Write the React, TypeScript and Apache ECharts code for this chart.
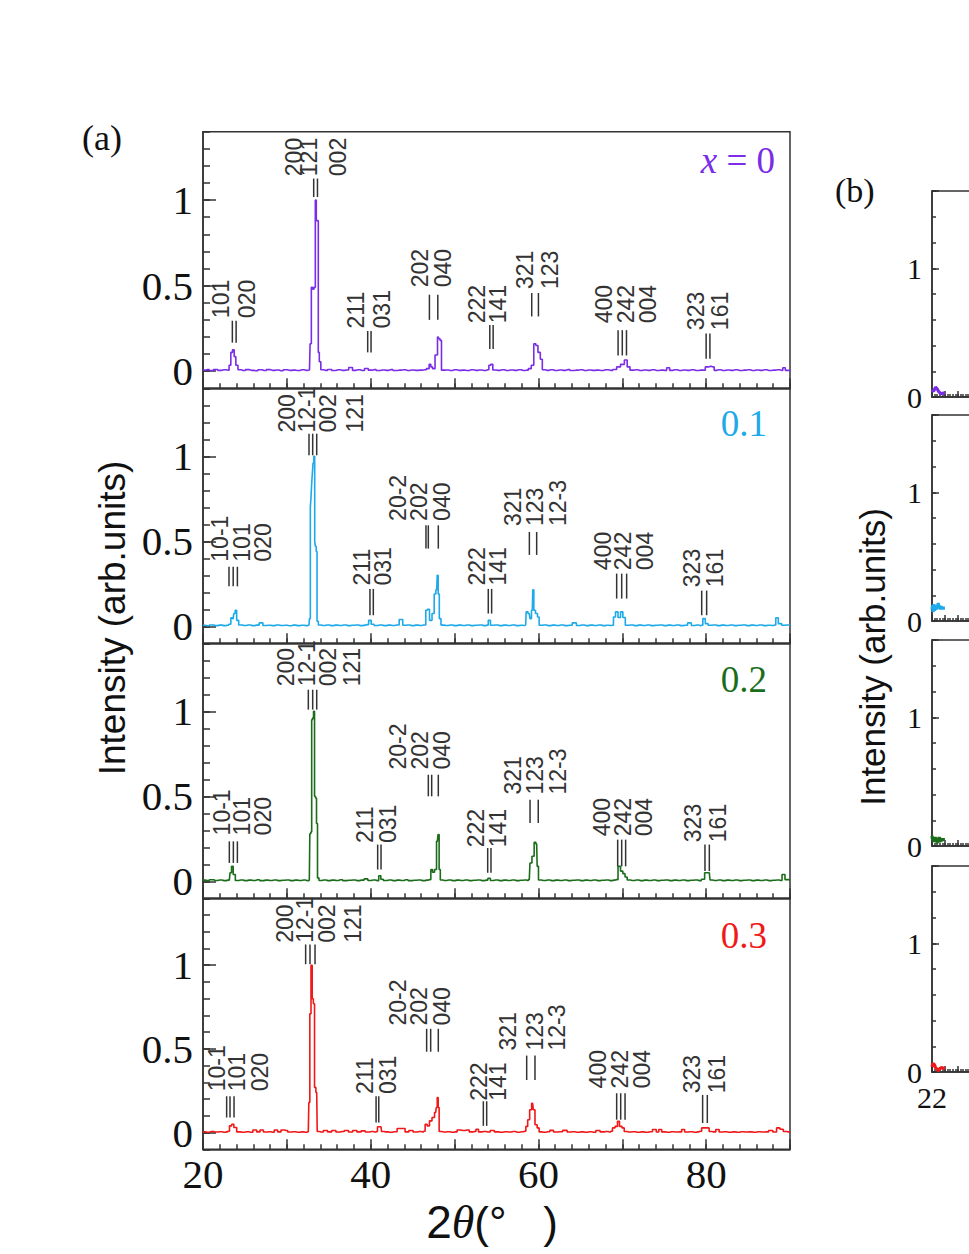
import React, { useEffect, useRef } from 'react';
import * as echarts from 'echarts';

type P = [number, number];
type Bar = [number, number, number];
type Lab = [string, number, number];

// ---------- panel (a) XRD patterns (2theta, normalised intensity) ----------
const xrd0: P[] = [
  [20,0.006],[20.5,0.009],[21,0.004],[21.5,0.01],[22,0.005],[22.5,0.008],[23,0.006],
  [23.22,0.035],[23.42,0.11],[23.62,0.125],[23.82,0.085],[24.01,0.035],[24.33,0.008],
  [24.8,0.004],[25.3,0.009],[25.8,0.005],[26.3,0.003],[26.8,0.008],[27.3,0.004],[27.8,0.009],[28.3,0.005],[28.8,0.007],[29.3,0.003],[29.8,0.008],[30.3,0.005],[30.8,0.006],[31.3,0.004],[31.8,0.008],[32.3,0.005],[32.7,0.007],
  [32.84,0.16],[33.0,0.49],[33.16,0.48],[33.32,0.49],[33.47,1.0],[33.55,0.88],[33.71,0.88],[33.79,0.11],[33.95,0.055],[34.15,0.008],
  [34.6,0.005],[35.1,0.01],[35.6,0.004],[36.1,0.008],[36.6,0.005],[37.1,0.007],[37.65,0.022],[38.0,0.005],[38.5,0.008],[39.0,0.004],[39.52,0.016],[39.9,0.006],[40.4,0.009],[40.9,0.004],[41.4,0.007],[41.9,0.005],[42.4,0.009],[42.9,0.004],[43.4,0.006],[43.9,0.008],[44.4,0.004],[44.9,0.007],[45.4,0.005],[45.9,0.006],[46.4,0.008],
  [46.87,0.015],[47.07,0.04],[47.27,0.025],[47.47,0.015],[47.87,0.095],[48.06,0.2],[48.2,0.19],[48.34,0.18],[48.54,0.006],
  [49,0.007],[49.5,0.004],[50,0.008],[50.5,0.005],[51,0.006],[51.5,0.004],[52,0.008],[52.5,0.005],[53,0.007],[53.5,0.004],[53.95,0.008],
  [54.23,0.035],[54.42,0.04],[54.7,0.007],
  [55.2,0.005],[55.7,0.008],[56.2,0.004],[56.7,0.007],[57.2,0.005],[57.7,0.008],[58.2,0.004],[58.6,0.006],
  [58.99,0.015],[59.3,0.035],[59.59,0.16],[59.79,0.15],[60.1,0.11],[60.35,0.07],[60.58,0.008],
  [61,0.005],[61.5,0.008],[62,0.004],[62.5,0.007],[63,0.005],[63.5,0.009],[64,0.004],[64.5,0.006],[65,0.008],[65.5,0.004],[66,0.007],[66.5,0.005],[67,0.006],[67.5,0.004],[68,0.008],[68.6,0.005],
  [69.13,0.01],[69.53,0.025],[70.05,0.04],[70.45,0.065],[70.72,0.025],[71.12,0.006],
  [71.6,0.008],[72.1,0.004],[72.6,0.007],[73.1,0.005],[73.6,0.008],[74.1,0.004],[74.6,0.006],[75.1,0.005],[75.49,0.02],[75.8,0.005],[76.3,0.008],[76.8,0.004],[77.3,0.007],[77.8,0.005],[78.3,0.008],[78.8,0.004],[79.3,0.006],[79.74,0.006],
  [80.06,0.025],[80.46,0.028],[80.86,0.025],[81.06,0.005],
  [81.5,0.008],[82,0.004],[82.5,0.007],[83,0.005],[83.5,0.008],[84,0.004],[84.5,0.006],[85,0.008],[85.5,0.004],[86,0.007],[86.5,0.005],[87,0.008],[87.5,0.004],[88,0.006],[88.5,0.008],[89,0.005],[89.28,0.02],[89.6,0.005],[90,0.006]
];

const xrd1: P[] = [
  [20,0.006],[20.5,0.003],[21,0.008],[21.5,0.004],[22,0.007],[22.5,0.004],[22.9,0.006],
  [23.22,0.012],[23.42,0.05],[23.6,0.045],[23.74,0.075],[23.93,0.094],[24.1,0.035],[24.41,0.008],
  [24.9,0.005],[25.4,0.008],[25.9,0.004],[26.4,0.007],[27.0,0.02],[27.3,0.005],[27.8,0.006],[28.3,0.004],[28.8,0.008],[29.3,0.005],[29.8,0.006],[30.3,0.003],[30.8,0.007],[31.3,0.004],[31.8,0.006],[32.3,0.004],[32.64,0.008],
  [32.76,0.045],[32.84,0.7],[32.92,0.76],[33.0,0.84],[33.08,0.9],[33.16,0.96],[33.28,1.0],[33.36,0.5],[33.44,0.47],[33.56,0.44],[33.64,0.03],[33.87,0.008],
  [34.3,0.005],[34.8,0.008],[35.3,0.004],[35.8,0.007],[36.3,0.005],[36.8,0.008],[37.3,0.004],[37.8,0.006],[38.3,0.008],[38.8,0.004],[39.3,0.007],[39.6,0.01],
  [39.91,0.035],[40.2,0.012],[40.6,0.005],[41.1,0.008],[41.6,0.004],[42.1,0.007],[42.6,0.005],[43.1,0.008],[43.69,0.04],[43.95,0.006],[44.4,0.008],[44.9,0.004],[45.4,0.007],[45.9,0.005],[46.3,0.008],
  [46.47,0.008],[46.67,0.094],[46.87,0.1],[47.15,0.035],[47.47,0.075],[47.67,0.19],[47.87,0.215],[47.99,0.3],[48.1,0.19],[48.26,0.045],[48.5,0.007],
  [49,0.005],[49.5,0.008],[50,0.004],[50.5,0.007],[51,0.005],[51.5,0.008],[52,0.004],[52.5,0.006],[53,0.008],[53.5,0.004],[53.9,0.007],
  [54.14,0.035],[54.42,0.006],
  [54.9,0.008],[55.4,0.004],[55.9,0.007],[56.4,0.005],[56.9,0.008],[57.4,0.004],[57.9,0.006],[58.3,0.005],
  [58.48,0.008],[58.6,0.085],[58.91,0.075],[59.07,0.045],[59.27,0.094],[59.39,0.215],[59.51,0.094],[59.79,0.075],[59.99,0.055],[60.18,0.006],
  [60.7,0.008],[61.2,0.004],[61.7,0.007],[62.2,0.005],[62.7,0.008],[63.2,0.004],[63.7,0.006],[64.36,0.02],[64.7,0.005],[65.2,0.008],[65.7,0.004],[66.2,0.007],[66.7,0.005],[67.2,0.008],[67.7,0.004],[68.2,0.006],[68.6,0.005],
  [68.85,0.006],[69.05,0.055],[69.33,0.085],[69.65,0.052],[69.93,0.085],[70.2,0.052],[70.52,0.006],
  [71,0.008],[71.5,0.004],[72,0.007],[72.5,0.005],[73,0.008],[73.5,0.004],[74,0.006],[74.5,0.008],[75,0.004],[75.5,0.007],[76,0.005],[76.5,0.008],[77,0.004],[77.5,0.006],[78.07,0.02],[78.4,0.005],[78.9,0.008],[79.3,0.004],
  [79.47,0.006],[79.74,0.045],[80.06,0.016],[80.4,0.006],
  [80.9,0.008],[81.4,0.004],[81.9,0.007],[82.4,0.005],[82.9,0.008],[83.4,0.004],[83.9,0.006],[84.4,0.008],[84.9,0.004],[85.4,0.007],[85.9,0.005],[86.4,0.008],[86.9,0.004],[87.4,0.006],[87.9,0.005],[88.2,0.008],
  [88.41,0.05],[88.8,0.016],[89.2,0.006],[89.6,0.008],[90,0.005]
];

const xrd2: P[] = [
  [20,0.007],[20.5,0.004],[21,0.009],[21.5,0.005],[22,0.008],[22.5,0.004],[23.0,0.007],
  [23.14,0.006],[23.3,0.05],[23.5,0.088],[23.7,0.04],[24.01,0.005],
  [24.5,0.008],[25,0.004],[25.5,0.007],[26,0.005],[26.5,0.009],[27,0.004],[27.5,0.007],[28,0.005],[28.5,0.008],[29,0.004],[29.5,0.006],[30,0.008],[30.5,0.004],[31,0.007],[31.5,0.005],[32,0.008],[32.4,0.004],
  [32.68,0.006],[32.8,0.28],[32.92,0.29],[33.0,0.95],[33.12,0.96],[33.24,1.0],[33.36,0.5],[33.47,0.49],[33.6,0.34],[33.71,0.02],[33.95,0.005],
  [34.4,0.008],[34.9,0.004],[35.4,0.007],[35.9,0.005],[36.4,0.009],[36.9,0.004],[37.4,0.006],[37.9,0.008],[38.4,0.004],[38.9,0.007],[39.52,0.014],[39.8,0.005],[40.3,0.008],[40.8,0.004],
  [41.11,0.033],[41.3,0.012],[41.7,0.005],[42.2,0.008],[42.7,0.004],[43.2,0.007],[43.7,0.005],[44.2,0.009],[44.7,0.004],[45.2,0.006],[45.7,0.008],[46.2,0.004],[46.7,0.007],
  [47.07,0.01],[47.27,0.069],[47.47,0.053],[47.75,0.069],[47.95,0.235],[48.1,0.275],[48.22,0.069],[48.38,0.008],
  [48.8,0.005],[49.3,0.008],[49.8,0.004],[50.3,0.007],[50.8,0.005],[51.3,0.008],[51.8,0.004],[52.3,0.006],[52.8,0.008],[53.3,0.004],[53.8,0.007],
  [54.14,0.018],[54.4,0.005],[54.9,0.008],[55.4,0.004],[55.9,0.007],[56.4,0.005],[56.9,0.008],[57.4,0.004],[57.9,0.006],[58.4,0.008],[58.7,0.005],
  [58.91,0.01],[59.07,0.108],[59.39,0.147],[59.59,0.23],[59.79,0.22],[59.91,0.088],[60.1,0.008],
  [60.6,0.005],[61.1,0.008],[61.6,0.004],[62.1,0.007],[62.6,0.005],[63.1,0.008],[63.6,0.004],[64.1,0.006],[64.6,0.008],[65.1,0.004],[65.6,0.007],[66.1,0.005],[66.6,0.008],[67.1,0.004],[67.6,0.006],[68.1,0.008],[68.6,0.004],[69.0,0.007],
  [69.33,0.01],[69.65,0.088],[69.93,0.06],[70.2,0.045],[70.45,0.025],[70.72,0.008],
  [71.2,0.005],[71.7,0.008],[72.2,0.004],[72.7,0.007],[73.2,0.005],[73.7,0.008],[74.2,0.004],[74.7,0.006],[75.2,0.008],[75.7,0.004],[76.2,0.007],[76.7,0.005],[77.2,0.008],[77.7,0.004],[78.2,0.006],[78.7,0.008],[79.2,0.004],
  [79.66,0.012],[79.98,0.05],[80.38,0.05],[80.54,0.008],
  [81,0.005],[81.5,0.008],[82,0.004],[82.5,0.007],[83,0.005],[83.5,0.008],[84,0.004],[84.5,0.006],[85,0.008],[85.5,0.004],[86,0.007],[86.5,0.005],[87,0.008],[87.5,0.004],[88,0.006],[88.5,0.008],[88.9,0.005],
  [89.2,0.04],[89.6,0.01],[90,0.006]
];

const xrd3: P[] = [
  [20,0.004],[20.5,0.002],[21,0.006],[21.5,0.003],[22,0.005],[22.5,0.002],[22.8,0.004],
  [23.02,0.008],[23.3,0.04],[23.54,0.05],[23.82,0.03],[24.22,0.004],
  [24.7,0.002],[25.2,0.005],[25.7,0.002],[26.2,0.015],[26.6,0.004],[27.0,0.015],[27.4,0.003],[27.9,0.005],[28.3,0.002],[28.7,0.015],[29.1,0.004],[29.5,0.015],[29.9,0.012],[30.3,0.003],[30.8,0.005],[31.3,0.002],[31.8,0.004],[32.2,0.002],
  [32.56,0.006],[32.68,0.18],[32.8,0.71],[32.96,1.0],[33.08,0.8],[33.24,0.77],[33.36,0.27],[33.56,0.24],[33.68,0.006],
  [34.1,0.003],[34.6,0.012],[35.1,0.004],[35.6,0.012],[36.1,0.003],[36.6,0.006],[37.1,0.012],[37.6,0.003],[38.1,0.012],[38.6,0.004],[39.1,0.01],[39.6,0.003],[40.1,0.006],[40.5,0.003],
  [40.71,0.006],[40.91,0.035],[41.23,0.035],[41.35,0.006],
  [41.8,0.004],[42.3,0.002],[42.8,0.005],[43.5,0.024],[43.9,0.024],[44.3,0.004],[44.8,0.012],[45.3,0.003],[45.8,0.006],[46.2,0.003],
  [46.39,0.008],[46.59,0.05],[46.87,0.04],[47.15,0.07],[47.47,0.09],[47.75,0.12],[47.87,0.15],[47.99,0.21],[48.1,0.15],[48.22,0.006],
  [48.7,0.003],[49.2,0.005],[49.7,0.002],[50.1,0.004],[50.5,0.015],[51.0,0.012],[51.5,0.015],[52.0,0.004],[52.4,0.006],[52.7,0.02],[53.0,0.004],[53.5,0.006],[54.0,0.003],[54.5,0.012],[55.0,0.004],[55.5,0.002],[56.0,0.005],[56.5,0.003],[57.0,0.006],[57.5,0.002],[58.0,0.005],
  [58.4,0.008],[58.6,0.037],[58.84,0.077],[59.07,0.136],[59.31,0.175],[59.47,0.136],[59.71,0.047],[59.99,0.028],[60.18,0.004],
  [60.6,0.002],[61.1,0.005],[61.6,0.013],[62.0,0.003],[62.5,0.005],[63.25,0.013],[63.6,0.003],[64.1,0.005],[64.6,0.002],[65.1,0.004],[65.6,0.002],[66.1,0.005],[66.6,0.002],[67.1,0.012],[67.6,0.004],[68.1,0.006],[68.5,0.003],
  [68.73,0.008],[68.93,0.028],[69.33,0.037],[69.53,0.067],[69.81,0.037],[70.13,0.028],[70.33,0.006],
  [70.8,0.003],[71.3,0.005],[71.8,0.002],[72.3,0.004],[72.8,0.002],[73.3,0.005],[73.9,0.018],[74.2,0.003],[74.5,0.018],[74.9,0.004],[75.4,0.002],[75.9,0.005],[76.4,0.003],[76.9,0.004],[77.27,0.018],[77.6,0.003],[78.1,0.005],[78.6,0.002],[79.0,0.004],
  [79.27,0.008],[79.66,0.028],[80.26,0.028],[80.46,0.006],
  [80.9,0.004],[81.4,0.018],[81.7,0.003],[82.2,0.005],[82.7,0.002],[83.2,0.004],[83.7,0.002],[84.2,0.005],[84.7,0.003],[85.2,0.004],[85.7,0.002],[86.2,0.005],[86.7,0.003],[87.2,0.004],[87.7,0.012],[88.2,0.003],
  [88.6,0.028],[89.0,0.02],[89.4,0.006],[89.8,0.004],[90,0.005]
];

// ---------- reflection markers: [2theta, y bottom, y top] ----------
const bars0: Bar[] = [
  [23.5,0.167,0.295],[23.95,0.167,0.295],[33.2,1.018,1.126],[33.65,1.018,1.126],
  [39.64,0.11,0.235],[40.04,0.11,0.235],[47.0,0.3,0.447],[48.0,0.3,0.447],
  [54.2,0.13,0.27],[54.6,0.13,0.27],[59.2,0.32,0.457],[60.0,0.32,0.457],
  [69.5,0.092,0.24],[70.0,0.092,0.24],[70.5,0.092,0.24],[80.0,0.073,0.22],[80.45,0.073,0.22]
];
const bars1: Bar[] = [
  [23.1,0.235,0.35],[23.6,0.235,0.35],[24.1,0.235,0.35],[32.64,1.006,1.133],[33.08,1.006,1.133],[33.56,1.006,1.133],
  [39.91,0.065,0.22],[40.31,0.065,0.22],[46.59,0.457,0.594],[46.87,0.457,0.594],[48.06,0.457,0.594],
  [54.02,0.075,0.22],[54.42,0.075,0.22],[58.92,0.42,0.555],[59.79,0.42,0.555],
  [69.33,0.163,0.31],[69.93,0.163,0.31],[70.52,0.163,0.31],[79.47,0.065,0.21],[80.06,0.065,0.21]
];
const bars2: Bar[] = [
  [23.14,0.108,0.235],[23.62,0.108,0.235],[24.1,0.108,0.235],[32.56,1.01,1.127],[33.08,1.01,1.127],[33.56,1.01,1.127],
  [40.83,0.069,0.216],[41.23,0.069,0.216],[46.87,0.5,0.627],[47.27,0.5,0.627],[48.06,0.5,0.627],
  [53.95,0.05,0.196],[54.34,0.05,0.196],[59.0,0.343,0.48],[59.98,0.343,0.48],
  [69.45,0.088,0.245],[69.93,0.088,0.245],[70.4,0.088,0.245],[79.86,0.06,0.216],[80.38,0.06,0.216]
];
const bars3: Bar[] = [
  [22.82,0.09,0.217],[23.22,0.09,0.217],[23.7,0.09,0.217],[32.24,1.006,1.124],[32.76,1.006,1.124],[33.36,1.006,1.124],
  [40.64,0.06,0.217],[40.96,0.06,0.217],[46.67,0.483,0.62],[47.15,0.483,0.62],[48.06,0.483,0.62],
  [53.43,0.04,0.187],[53.83,0.04,0.187],[58.6,0.314,0.46],[59.59,0.314,0.46],
  [69.33,0.077,0.235],[69.81,0.077,0.235],[70.33,0.077,0.235],[79.58,0.057,0.225],[80.14,0.057,0.225]
];

// ---------- hkl labels: [text, 2theta of column centre, y where text starts] ----------
const hkl0: Lab[] = [
  ['101',22.11,0.31],['020',25.2,0.31],['200',30.85,1.14],['121',32.7,1.14],['002',36.13,1.14],
  ['211',38.2,0.25],['031',41.3,0.25],['202',45.88,0.49],['040',48.66,0.49],['222',52.7,0.28],['141',55.2,0.28],
  ['321',58.4,0.48],['123',61.4,0.48],['400',67.82,0.28],['242',70.5,0.28],['004',73.1,0.28],['323',78.8,0.24],['161',81.65,0.24]
];
const hkl1: Lab[] = [
  ['10-1',22.06,0.38],['101',24.6,0.38],['020',27.2,0.38],['200',29.98,1.14],['12-1',32.37,1.14],['002',34.94,1.14],['121',38.13,1.14],
  ['211',38.92,0.24],['031',41.42,0.24],['20-2',43.29,0.62],['202',45.8,0.62],['040',48.46,0.62],['222',52.7,0.24],['141',55.2,0.24],
  ['321',57.0,0.59],['123',59.6,0.59],['12-3',62.38,0.59],['400',67.74,0.33],['242',70.1,0.33],['004',72.7,0.33],['323',78.27,0.23],['161',81.05,0.23]
];
const hkl2: Lab[] = [
  ['10-1',22.3,0.27],['101',24.6,0.27],['020',27.2,0.27],['200',29.9,1.147],['12-1',32.37,1.147],['002',34.86,1.147],['121',37.8,1.147],
  ['211',39.3,0.225],['031',42.1,0.225],['20-2',43.29,0.657],['202',45.88,0.657],['040',48.46,0.657],['222',52.6,0.2],['141',55.2,0.2],
  ['321',57.0,0.51],['123',59.6,0.51],['12-3',62.38,0.51],['400',67.54,0.265],['242',70.1,0.265],['004',72.6,0.265],['323',78.47,0.23],['161',81.45,0.23]
];
const hkl3: Lab[] = [
  ['10-1',21.63,0.247],['101',24.0,0.247],['020',26.8,0.247],['200',29.78,1.134],['12-1',32.16,1.134],['002',34.74,1.134],['121',37.84,1.134],
  ['211',39.32,0.23],['031',42.1,0.23],['20-2',43.29,0.64],['202',45.7,0.64],['040',48.5,0.64],['222',52.96,0.19],['141',55.14,0.19],
  ['321',56.4,0.49],['123',59.6,0.49],['12-3',62.2,0.49],['400',67.13,0.264],['242',69.73,0.264],['004',72.31,0.264],['323',78.27,0.235],['161',81.25,0.235]
];

// ---------- panel (b): beginning of the enlarged patterns ----------
const zoom0: P[] = [[22.0,0.04],[22.06,0.05],[22.12,0.045],[22.2,0.06],[22.28,0.075],[22.34,0.07],[22.42,0.06],[22.5,0.045],[22.58,0.035],[22.66,0.03],[22.74,0.025],[22.85,0.03],[23.0,0.03]];
const zoom1: P[] = [[22.0,0.09],[22.04,0.12],[22.08,0.07],[22.12,0.11],[22.16,0.13],[22.2,0.08],[22.25,0.1],[22.3,0.12],[22.36,0.09],[22.42,0.11],[22.48,0.14],[22.54,0.1],[22.6,0.12],[22.66,0.09],[22.72,0.11],[22.8,0.1],[23.0,0.1]];
const zoom2: P[] = [[22.0,0.08],[22.04,0.05],[22.08,0.07],[22.12,0.03],[22.16,0.07],[22.2,0.04],[22.25,0.07],[22.3,0.03],[22.35,0.06],[22.4,0.02],[22.45,0.06],[22.5,0.04],[22.55,0.07],[22.6,0.03],[22.66,0.06],[22.72,0.04],[22.8,0.05],[23.0,0.05]];
const zoom3: P[] = [[22.0,0.04],[22.05,0.06],[22.12,0.065],[22.2,0.055],[22.26,0.035],[22.32,0.03],[22.4,0.02],[22.46,0.01],[22.52,0.015],[22.58,0.025],[22.66,0.03],[22.74,0.035],[22.85,0.03],[23.0,0.03]];

const SERIES_COLORS = ['#7a2de6', '#1ea9e9', '#1b6d1b', '#f01818'];
const SAMPLE_LABELS = ['x = 0', '0.1', '0.2', '0.3'];
const A_Y_TICK_LABELS = ['0', '0.5', '1'];
const A_X_TICK_LABELS = ['20', '40', '60', '80'];
const B_Y_TICK_LABELS = ['0', '1'];
const B_X_TICK_LABELS = ['22'];

const XRD = [xrd0, xrd1, xrd2, xrd3];
const BARS = [bars0, bars1, bars2, bars3];
const HKL = [hkl0, hkl1, hkl2, hkl3];
const ZOOM = [zoom0, zoom1, zoom2, zoom3];

const SERIF = '"Liberation Serif", "Times New Roman", serif';
const SANS = '"Liberation Sans", Arial, sans-serif';

export default function App() {
  const ref = useRef<HTMLDivElement>(null);
  useEffect(() => {
    if (!ref.current) return;
    const chart = echarts.init(ref.current, undefined, { renderer: 'svg' });

    const A_TOPS = [131.7, 388.3, 643.3, 898.3];
    const A_H = [256.6, 255, 255, 251];
    const B_TOPS = [191, 415, 640, 866];
    const B_H = 206;

    const grid: any[] = [];
    const xAxis: any[] = [];
    const yAxis: any[] = [];
    const series: any[] = [];
    const line = { color: '#333', width: 1.5 };

    const fmtList = (list: string[]) => (v: number) => {
      const s = String(Math.round(v * 100) / 100);
      return list.indexOf(s) >= 0 ? s : '';
    };

    for (let g = 0; g < 8; g++) {
      const isA = g < 4;
      const i = g % 4;
      const last = i === 3;
      grid.push(isA
        ? { left: 203, width: 587, top: A_TOPS[i], height: A_H[i], show: true, borderColor: '#333', borderWidth: 1.5 }
        : { left: 932, width: 620, top: B_TOPS[i], height: B_H, show: true, borderColor: '#333', borderWidth: 1.5 });
      const xmin = isA ? 20 : 22, xmax = isA ? 90 : 34;
      const ymin = isA ? -0.1 : 0, ymax = isA ? 1.4 : 1.6;
      // minor x ticks
      xAxis.push({
        type: 'value', gridIndex: g, min: xmin, max: xmax, interval: isA ? 2 : 0.2, position: 'bottom',
        axisLine: { show: true, onZero: false, lineStyle: line },
        axisTick: { show: true, inside: true, length: isA ? 5 : 3, lineStyle: line },
        axisLabel: { show: false }, splitLine: { show: false },
      });
      // major x ticks + labels
      xAxis.push({
        type: 'value', gridIndex: g, min: xmin, max: xmax, interval: isA ? 10 : 1, position: 'bottom',
        axisLine: { show: false, onZero: false },
        axisTick: { show: true, inside: true, length: isA ? 10 : 6, lineStyle: line },
        axisLabel: isA ? {
          show: last, margin: 4, color: '#111', fontFamily: SERIF, fontSize: 41,
          formatter: fmtList(A_X_TICK_LABELS),
        } : {
          show: last, margin: 13, color: '#111', fontFamily: SERIF, fontSize: 30, lineHeight: 24,
          formatter: fmtList(B_X_TICK_LABELS),
        },
        splitLine: { show: false },
      });
      // minor y ticks
      yAxis.push({
        type: 'value', gridIndex: g, min: ymin, max: ymax, interval: isA ? 0.1 : 0.2, position: 'left',
        axisLine: { show: true, onZero: false, lineStyle: line },
        axisTick: { show: true, inside: true, length: isA ? 7 : 4, lineStyle: line },
        axisLabel: { show: false }, splitLine: { show: false },
      });
      // major y ticks + labels
      yAxis.push(isA ? {
        type: 'value', gridIndex: g, min: ymin, max: ymax, splitNumber: 3, position: 'left',
        axisLine: { show: false, onZero: false },
        axisTick: { show: true, inside: true, length: 13, lineStyle: line },
        axisLabel: { show: true, margin: 10, color: '#111', fontFamily: SERIF, fontSize: 41, formatter: fmtList(A_Y_TICK_LABELS), showMinLabel: false, showMaxLabel: false },
        splitLine: { show: false },
      } : {
        type: 'value', gridIndex: g, min: ymin, max: ymax, interval: 1, position: 'left',
        axisLine: { show: false, onZero: false },
        axisTick: { show: true, inside: true, length: 7, lineStyle: line },
        axisLabel: { show: true, margin: 10, color: '#111', fontFamily: SERIF, fontSize: 30, lineHeight: 24, formatter: fmtList(B_Y_TICK_LABELS) },
        splitLine: { show: false },
      });

      const ax = 2 * g + 1;
      if (isA) {
        series.push({
          type: 'line', xAxisIndex: ax, yAxisIndex: ax, data: XRD[i], step: 'middle',
          showSymbol: false, symbol: 'none', lineStyle: { color: SERIES_COLORS[i], width: 1.6 }, z: 3, silent: true,
        });
        const bars = BARS[i];
        series.push({
          type: 'custom', xAxisIndex: ax, yAxisIndex: ax, data: bars, encode: { x: 0, y: [1, 2] }, z: 4, silent: true,
          renderItem: (_p: any, api: any) => {
            const x = api.value(0);
            const a = api.coord([x, api.value(1)]);
            const b = api.coord([x, api.value(2)]);
            return { type: 'line', shape: { x1: a[0], y1: a[1], x2: b[0], y2: b[1] }, style: { stroke: '#333', lineWidth: 1.5 } };
          },
        });
        const labs = HKL[i];
        series.push({
          type: 'custom', xAxisIndex: ax, yAxisIndex: ax, data: labs.map((l) => [l[1], l[2]]), encode: { x: 0, y: 1 }, z: 4, silent: true,
          renderItem: (p: any, api: any) => {
            const l = labs[p.dataIndex];
            const c = api.coord([l[1], l[2]]);
            return {
              type: 'text', x: c[0], y: c[1], rotation: Math.PI / 2,
              style: { text: l[0], fill: '#333', fontSize: 23, fontFamily: SANS, align: 'left', textAlign: 'left', verticalAlign: 'middle', textVerticalAlign: 'middle' },
            };
          },
        });
      } else {
        series.push({
          type: 'line', xAxisIndex: ax, yAxisIndex: ax, data: ZOOM[i],
          showSymbol: false, symbol: 'none', lineStyle: { color: SERIES_COLORS[i], width: 3.2 }, z: 3, silent: true,
        });
      }
    }

    const sampleY = [160, 423, 679, 935];
    const sampleX = [775, 767, 767, 767];
    const graphic: any[] = [
      { type: 'text', x: 82, y: 138, style: { text: '(a)', font: `36px ${SERIF}`, fill: '#111', textAlign: 'left', textVerticalAlign: 'middle', align: 'left', verticalAlign: 'middle' } },
      { type: 'text', x: 835, y: 190, style: { text: '(b)', font: `34px ${SERIF}`, fill: '#111', textAlign: 'left', textVerticalAlign: 'middle', align: 'left', verticalAlign: 'middle' } },
      { type: 'text', x: 112, y: 618, rotation: Math.PI / 2, style: { text: 'Intensity (arb.units)', font: `37px ${SANS}`, fill: '#111', textAlign: 'center', textVerticalAlign: 'middle', align: 'center', verticalAlign: 'middle' } },
      { type: 'text', x: 872, y: 657, rotation: Math.PI / 2, style: { text: 'Intensity (arb.units)', font: `35px ${SANS}`, fill: '#111', textAlign: 'center', textVerticalAlign: 'middle', align: 'center', verticalAlign: 'middle' } },
      {
        type: 'text', x: 492, y: 1222,
        style: {
          text: '{a|2}{b|θ}{c|(°   )}', textAlign: 'center', textVerticalAlign: 'middle', align: 'center', verticalAlign: 'middle', fill: '#111',
          rich: {
            a: { fontFamily: SANS, fontSize: 46, fill: '#111', color: '#111' },
            b: { fontFamily: SERIF, fontStyle: 'italic', fontSize: 46, fill: '#111', color: '#111' },
            c: { fontFamily: SANS, fontSize: 44, fill: '#111', color: '#111' },
          },
        },
      },
    ];
    for (let i = 0; i < 4; i++) {
      const text = i === 0 ? '{i|x}{n| = 0}' : `{n|${SAMPLE_LABELS[i]}}`;
      graphic.push({
        type: 'text', x: sampleX[i], y: sampleY[i],
        style: {
          text, textAlign: 'right', textVerticalAlign: 'middle', align: 'right', verticalAlign: 'middle', fill: SERIES_COLORS[i],
          rich: {
            i: { fontFamily: SERIF, fontStyle: 'italic', fontSize: 37, fill: SERIES_COLORS[i], color: SERIES_COLORS[i] },
            n: { fontFamily: SERIF, fontSize: 37, fill: SERIES_COLORS[i], color: SERIES_COLORS[i] },
          },
        },
      });
    }

    chart.setOption({ animation: false, backgroundColor: '#fff', grid, xAxis, yAxis, series, graphic });
    return () => chart.dispose();
  }, []);
  return <div ref={ref} style={{ position: 'absolute', left: 0, top: 0, width: 969, height: 1254 }} />;
}
